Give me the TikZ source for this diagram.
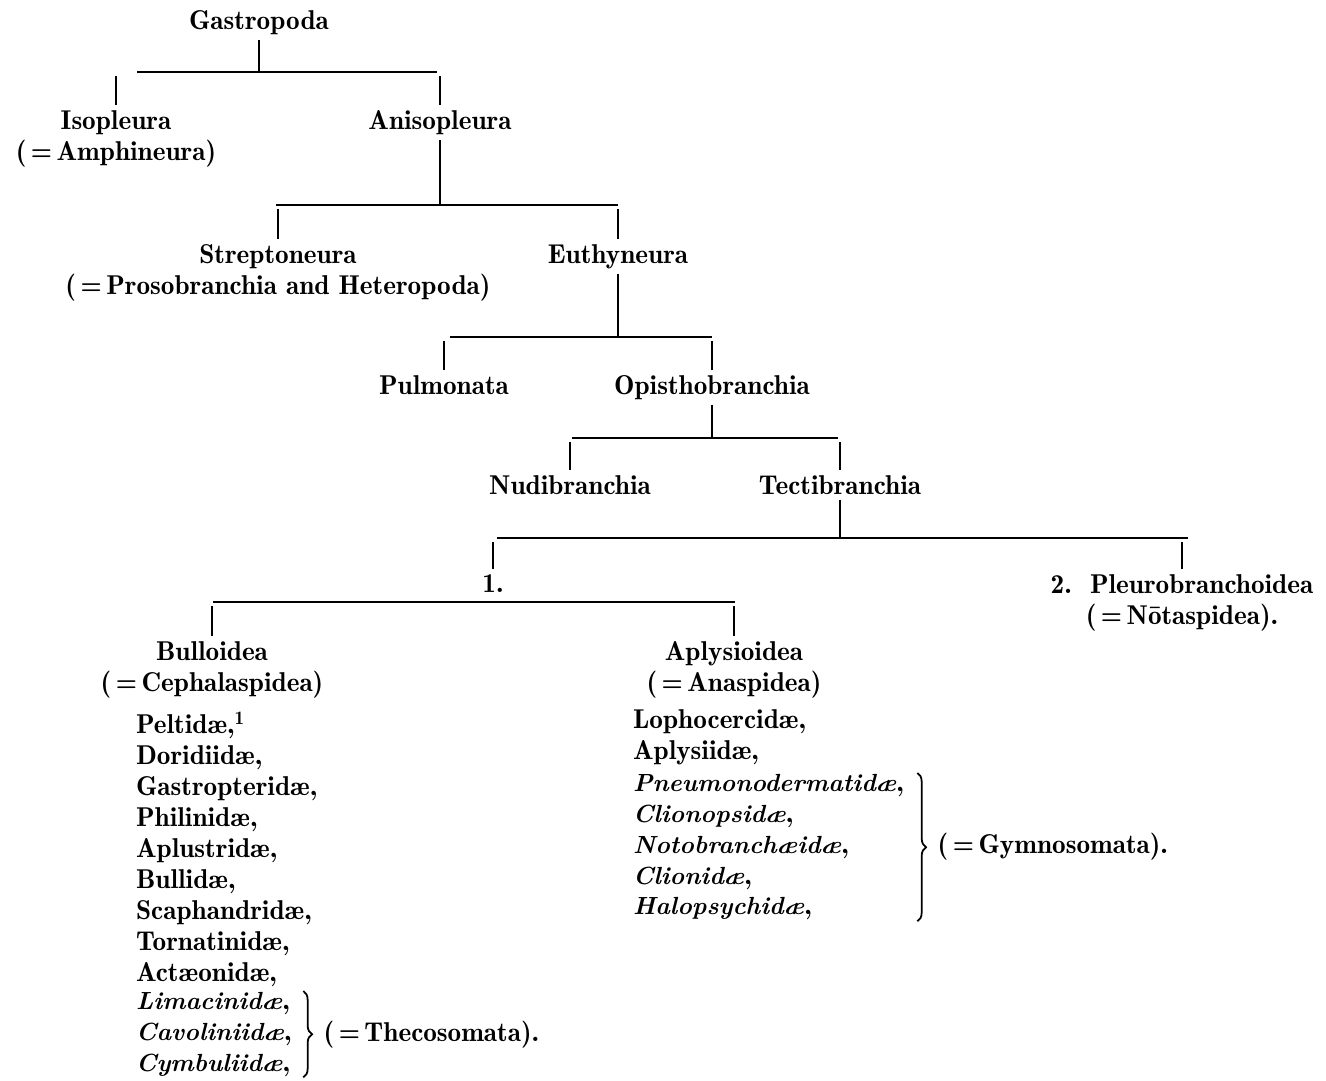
\documentclass[tikz,border=0pt]{standalone}
\usepackage{fontspec}
\setmainfont{lmromandemi10-regular.otf}[ItalicFont=lmroman10-bolditalic.otf, ItalicFeatures={Scale=0.91}]
\usetikzlibrary{positioning, decorations.pathreplacing}

\begin{document}
\begin{tikzpicture}[x=0.02cm, y=-0.02cm, line width=1.2pt, font=\fontsize{15.5}{17.6}\selectfont]

	% Define styles
	\tikzstyle{taxon} = [inner sep=0pt, outer sep=3pt, align=center, anchor=north]
	\tikzstyle{family} = [inner sep=0pt, align=left, anchor=north west]
	\tikzstyle{group} = [inner sep=0pt, anchor=west]
	\tikzstyle{drop} = [shorten >=2pt]
	\tikzstyle{bracket} = [decorate, decoration={brace, amplitude=5pt}]

	\useasboundingbox (0,0) rectangle (1326,1081);

	% Nodes
	\node[taxon] (gastro) at (259,5) {Gastropoda};
	\node[taxon] (iso) at (116,105) {Isopleura\\(\,=\,Amphineura)};
	\node[taxon] (aniso) at (440,105) {Anisopleura};
	\node[taxon] (strep) at (278,239) {Streptoneura\\(\,=\,Prosobranchia and Heteropoda)};
	\node[taxon] (euthy) at (618,239) {Euthyneura};
	\node[taxon] (pulm) at (444,370) {Pulmonata};
	\node[taxon] (opis) at (712,370) {Opisthobranchia};
	\node[taxon] (nudi) at (570,470) {Nudibranchia};
	\node[taxon] (tecti) at (840,470) {Tectibranchia};
	\node[taxon] (one) at (493,569) {1.};
	\node[taxon] (pleuro) at (1182,569) {2.\ \ Pleurobranchoidea\\(\,=\,Nōtaspidea).};
	\node[taxon] (bull) at (212,636) {Bulloidea\\(\,=\,Cephalaspidea)};
	\node[taxon] (aply) at (734,636) {Aplysioidea\\(\,=\,Anaspidea)};

	% Families
	\node[family] (bullfam) at (135,711) {Peltidæ,\textsuperscript{1}\\Doridiidæ,\\Gastropteridæ,\\Philinidæ,\\Aplustridæ,\\Bullidæ,\\Scaphandridæ,\\Tornatinidæ,\\Actæonidæ,};
	\node[family] (theco) at (135,991) {\textit{Limacinidæ},\\\textit{Cavoliniidæ},\\\textit{Cymbuliidæ},};
	\node[family] (aplyfam) at (632,709) {Lophocercidæ,\\Aplysiidæ,};
	\node[family] (gymno) at (632,773) {\textit{Pneumonodermatidæ},\\\textit{Clionopsidæ},\\\textit{Notobranchæidæ},\\\textit{Clionidæ},\\\textit{Halopsychidæ},};

	% Bars
	\coordinate (bar1l) at (137,72);  \coordinate (bar1r) at (437,72);
	\coordinate (bar2l) at (276,205); \coordinate (bar2r) at (618,205);
	\coordinate (bar3l) at (450,337); \coordinate (bar3r) at (712,337);
	\coordinate (bar4l) at (572,438); \coordinate (bar4r) at (838,438);
	\coordinate (bar5l) at (497,538); \coordinate (bar5r) at (1188,538);
	\coordinate (bar6l) at (213,602); \coordinate (bar6r) at (735,602);
	\foreach \b in {1,...,6}
		\draw (bar\b l) -- (bar\b r);

	% Lines
	\draw (gastro.south) -- (gastro.south |- bar1l);
	\draw[drop] (iso.north) -- (iso.north |- bar1l);
	\draw[drop] (aniso.north) -- (aniso.north |- bar1l);

	\draw (aniso.south) -- (aniso.south |- bar2l);
	\draw[drop] (strep.north) -- (strep.north |- bar2l);
	\draw[drop] (euthy.north) -- (euthy.north |- bar2l);

	\draw (euthy.south) -- (euthy.south |- bar3l);
	\draw[drop] (pulm.north) -- (pulm.north |- bar3l);
	\draw[drop] (opis.north) -- (opis.north |- bar3l);

	\draw (opis.south) -- (opis.south |- bar4l);
	\draw[drop] (nudi.north) -- (nudi.north |- bar4l);
	\draw[drop] (tecti.north) -- (tecti.north |- bar4l);

	\draw (tecti.south) -- (tecti.south |- bar5l);
	\draw[drop] (one.north) -- (one.north |- bar5l);
	\draw[drop] (pleuro.north) -- (pleuro.north |- bar5l);

	\draw[drop] (bull.north) -- (bull.north |- bar6l);
	\draw[drop] (aply.north) -- (aply.north |- bar6l);

	% Braces
	\draw[bracket, line width=1pt] ([xshift=6pt]theco.north east) -- ([xshift=6pt]theco.south east);
	\node[group, right=17pt of theco] (thecolab) {(\,=\,Thecosomata).};
	\draw[bracket, line width=1pt] ([xshift=7pt]gymno.north east) -- ([xshift=7pt]gymno.south east);
	\node[group, right=18pt of gymno] (gymnolab) {(\,=\,Gymnosomata).};

\end{tikzpicture}
\end{document}
